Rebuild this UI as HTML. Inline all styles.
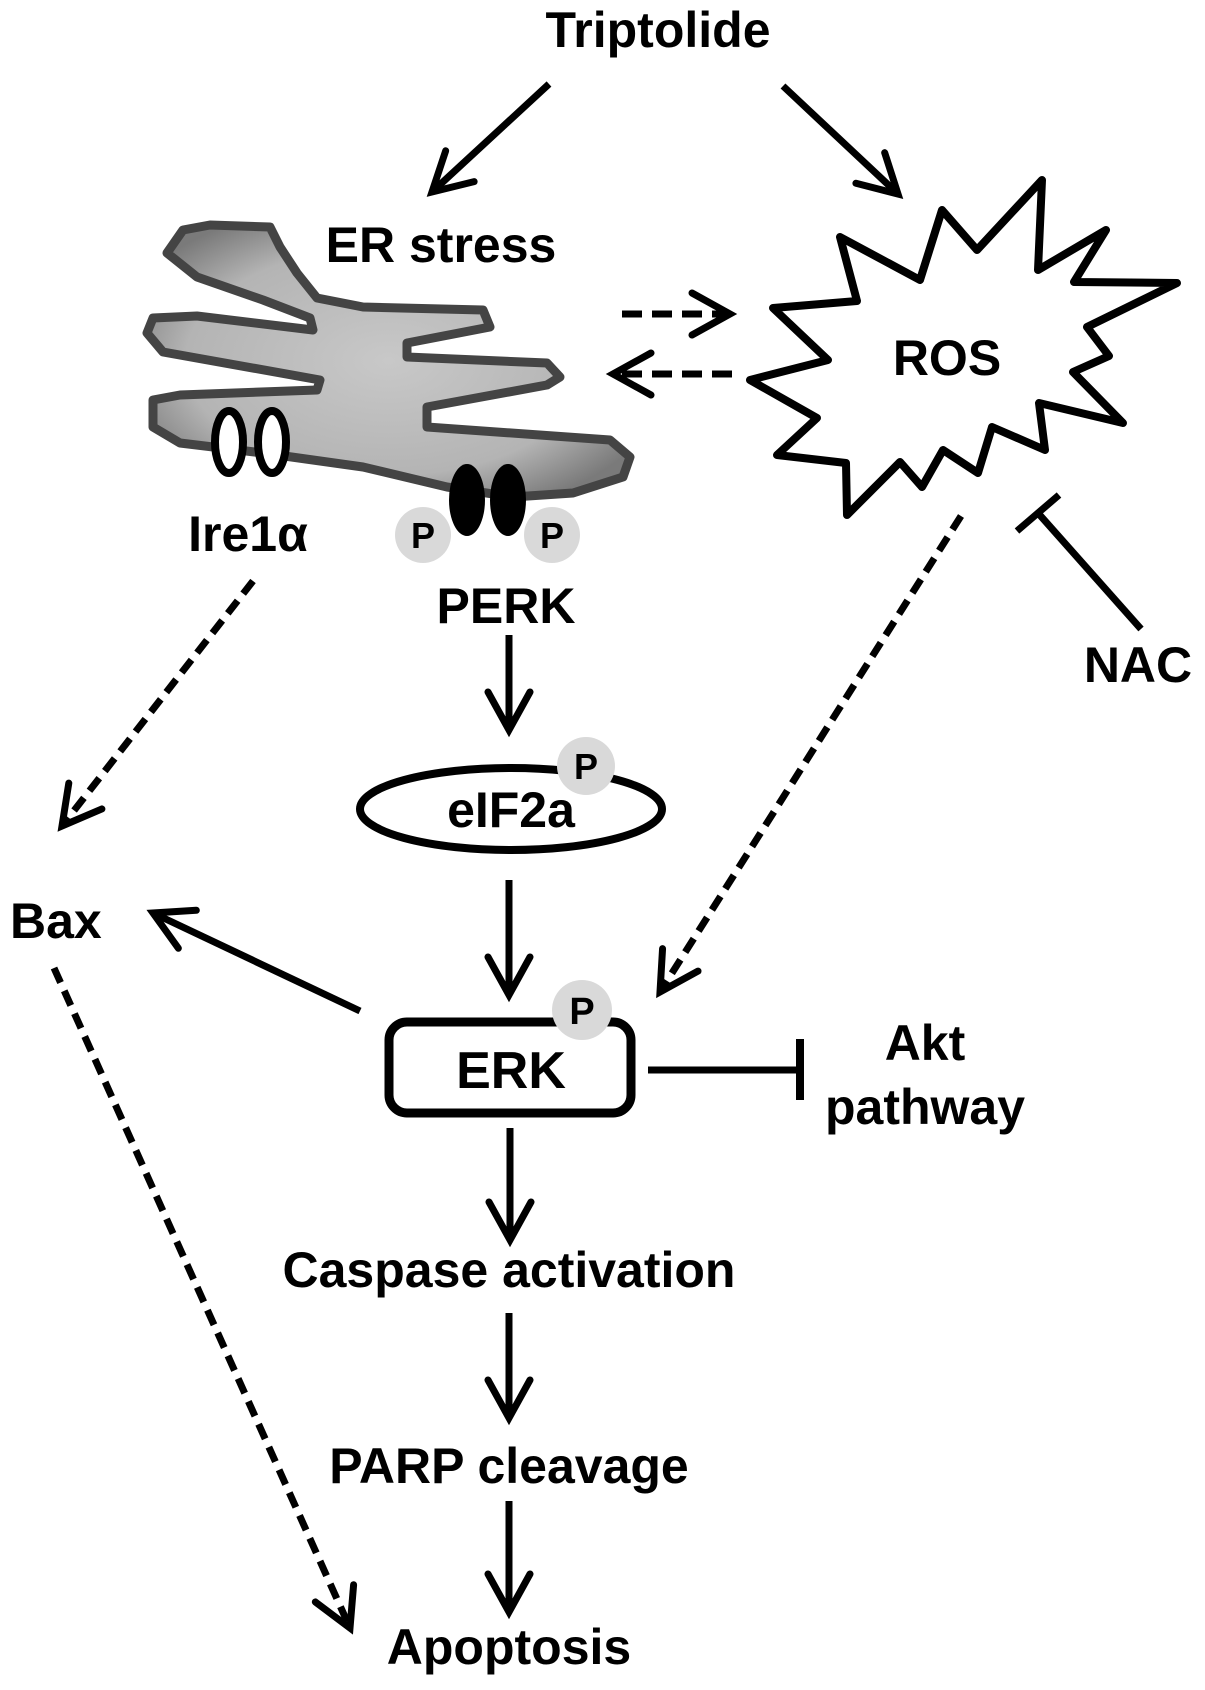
<!DOCTYPE html>
<html><head><meta charset="utf-8"><style>
html,body{margin:0;padding:0;background:#fff;}
svg{display:block;}
text{font-family:"Liberation Sans",Arial,sans-serif;font-weight:bold;fill:#000;}
</style></head><body>
<svg width="1205" height="1690" viewBox="0 0 1205 1690" xmlns="http://www.w3.org/2000/svg">
<defs>
<marker id="a" viewBox="-12 -8 14 16" markerWidth="14" markerHeight="16" refX="0" refY="0" orient="auto" markerUnits="userSpaceOnUse" overflow="visible">
<path d="M-38,-21 L0,0 L-38,21" fill="none" stroke="#000" stroke-width="7" stroke-linecap="round" stroke-linejoin="miter"/>
</marker>
<radialGradient id="g" cx="0.5" cy="0.5" r="0.6">
<stop offset="0" stop-color="#c8c8c8"/><stop offset="0.7" stop-color="#b4b4b4"/><stop offset="1" stop-color="#7a7a7a"/>
</radialGradient>
</defs>

<text x="658" y="47" font-size="50" text-anchor="middle">Triptolide</text>
<line x1="549" y1="84" x2="432" y2="192" stroke="#000" stroke-width="7" marker-end="url(#a)"/>
<line x1="783" y1="86" x2="898" y2="194" stroke="#000" stroke-width="7" marker-end="url(#a)"/>

<path d="M167,253 L183,230 L210,225 L270,227 L280,247 L297,273 L317,298 L363,307 L483,310 L490,327 L407,343 L407,357 L547,363 L560,377 L547,385 L427,407 L427,427 L610,440 L630,457 L623,477 L573,493 L513,497 L447,487 L363,467 L263,453 L180,443 L153,427 L153,400 L180,395 L317,390 L320,380 L163,352 L147,333 L153,318 L197,316 L313,330 L310,318 L263,300 L197,277 Z" fill="url(#g)" stroke="#444" stroke-width="9" stroke-linejoin="round"/>
<text x="441" y="262" font-size="50" text-anchor="middle">ER stress</text>
<ellipse cx="229" cy="442" rx="14" ry="31" fill="#fff" stroke="#000" stroke-width="8"/>
<ellipse cx="272" cy="442" rx="14" ry="31" fill="#fff" stroke="#000" stroke-width="8"/>
<ellipse cx="467" cy="500" rx="18" ry="36" fill="#000"/>
<ellipse cx="508" cy="500" rx="18" ry="36" fill="#000"/>
<circle cx="423" cy="535" r="28" fill="#d9d9d9"/>
<circle cx="552" cy="535" r="28" fill="#d9d9d9"/>
<text x="423" y="548" font-size="36" text-anchor="middle">P</text>
<text x="552" y="548" font-size="36" text-anchor="middle">P</text>
<text x="248" y="551" font-size="50" text-anchor="middle">Ire1α</text>
<text x="506" y="623" font-size="50" text-anchor="middle">PERK</text>

<line x1="622" y1="314" x2="730" y2="314" stroke="#000" stroke-width="7" stroke-dasharray="20,10" marker-end="url(#a)"/>
<line x1="732" y1="374" x2="613" y2="374" stroke="#000" stroke-width="7" stroke-dasharray="20,10" marker-end="url(#a)"/>

<path d="M840,237 L920,280 L942,210 L977,250 L1042,180 L1038,270 L1106,230 L1074,282 L1177,283 L1087,327 L1109,356 L1073,372 L1123,423 L1039,403 L1045,450 L992,427 L978,473 L943,450 L922,487 L900,462 L847,515 L846,463 L777,455 L817,418 L750,380 L828,360 L773,308 L857,301 Z" fill="#fff" stroke="#000" stroke-width="8" stroke-linejoin="round"/>
<text x="947" y="375" font-size="50" text-anchor="middle">ROS</text>

<line x1="1141" y1="629" x2="1038" y2="513" stroke="#000" stroke-width="7"/>
<line x1="1017" y1="531" x2="1059" y2="495" stroke="#000" stroke-width="7"/>
<text x="1138" y="682" font-size="50" text-anchor="middle">NAC</text>

<line x1="509" y1="635" x2="509" y2="730" stroke="#000" stroke-width="7" marker-end="url(#a)"/>
<ellipse cx="511" cy="809" rx="151" ry="41" fill="#fff" stroke="#000" stroke-width="8"/>
<circle cx="586" cy="766" r="29" fill="#d9d9d9"/>
<text x="586" y="779" font-size="36" text-anchor="middle">P</text>
<text x="511" y="827" font-size="50" text-anchor="middle">eIF2a</text>
<line x1="509" y1="880" x2="509" y2="995" stroke="#000" stroke-width="7" marker-end="url(#a)"/>

<rect x="389" y="1022" width="242" height="91" rx="18" fill="#fff" stroke="#000" stroke-width="9"/>
<circle cx="582" cy="1010" r="30" fill="#d9d9d9"/>
<text x="582" y="1024" font-size="38" text-anchor="middle">P</text>
<text x="511" y="1088" font-size="52" text-anchor="middle">ERK</text>

<line x1="648" y1="1070" x2="800" y2="1070" stroke="#000" stroke-width="7"/>
<line x1="800" y1="1039" x2="800" y2="1100" stroke="#000" stroke-width="8"/>
<text x="925" y="1060" font-size="50" text-anchor="middle">Akt</text>
<text x="925" y="1124" font-size="50" text-anchor="middle">pathway</text>

<line x1="961" y1="516" x2="660" y2="992" stroke="#000" stroke-width="7" stroke-dasharray="16,9" marker-end="url(#a)"/>

<line x1="253" y1="581" x2="62" y2="826" stroke="#000" stroke-width="7" stroke-dasharray="16,9" marker-end="url(#a)"/>
<text x="10" y="938" font-size="50">Bax</text>
<line x1="360" y1="1011" x2="153" y2="913" stroke="#000" stroke-width="7" marker-end="url(#a)"/>
<line x1="54" y1="968" x2="350" y2="1628" stroke="#000" stroke-width="7" stroke-dasharray="16,9" marker-end="url(#a)"/>

<line x1="510" y1="1128" x2="510" y2="1240" stroke="#000" stroke-width="7" marker-end="url(#a)"/>
<text x="509" y="1287" font-size="50" text-anchor="middle">Caspase activation</text>
<line x1="509" y1="1313" x2="509" y2="1418" stroke="#000" stroke-width="7" marker-end="url(#a)"/>
<text x="509" y="1483" font-size="50" text-anchor="middle">PARP cleavage</text>
<line x1="509" y1="1501" x2="509" y2="1612" stroke="#000" stroke-width="7" marker-end="url(#a)"/>
<text x="509" y="1664" font-size="50" text-anchor="middle">Apoptosis</text>
</svg>
</body></html>
